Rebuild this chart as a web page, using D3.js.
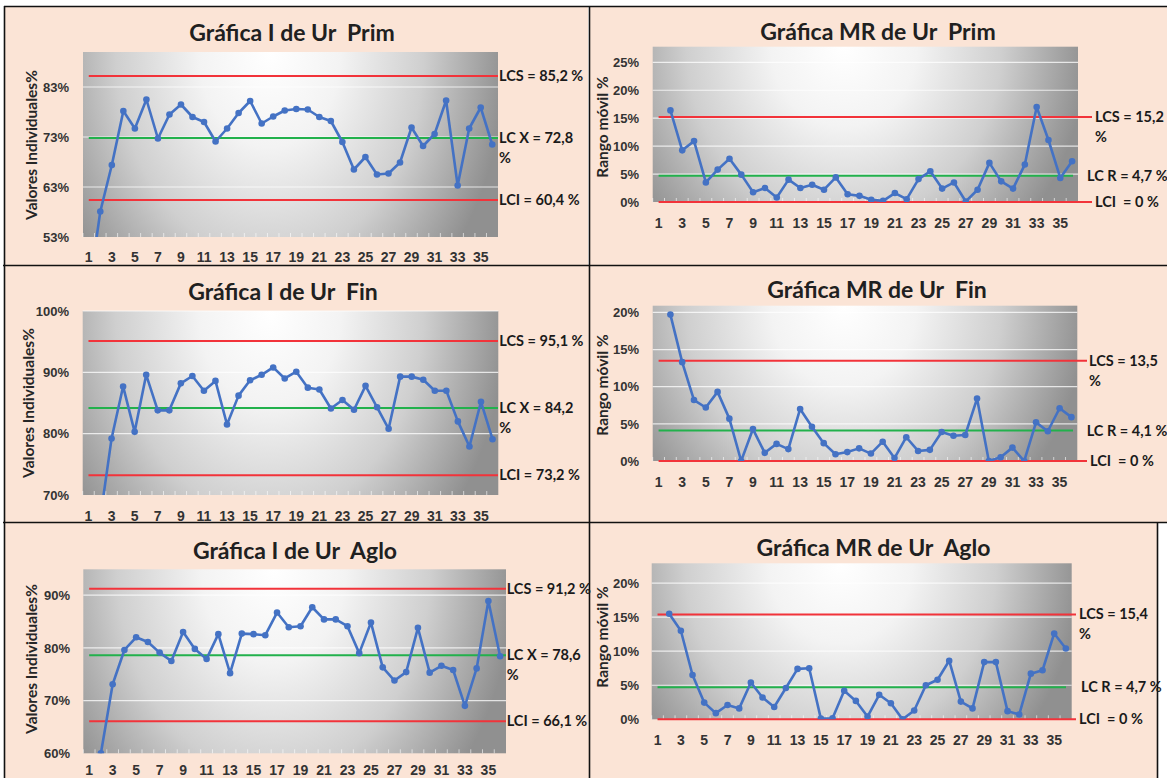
<!DOCTYPE html>
<html>
<head>
<meta charset="utf-8">
<script src="https://cdn.jsdelivr.net/npm/d3@7"></script>
<style>
  body { margin: 0; background: #ffffff; }
  svg { display: block; font-family: Lato, "Open Sans", sans-serif; }
  text { white-space: pre; }
</style>
</head>
<body>
<svg id="chart" width="1167" height="778"></svg>
<script>
// Observation numbers and the odd labels shown on the category axis
const observations = d3.range(1, 37);
const xTickLabels = d3.range(1, 36, 2);

// Ur Prim – individual values (%) and moving ranges (%)
const primValues = [41.9, 58.1, 67.4, 78.2, 74.7, 80.5, 72.7, 77.5, 79.5, 77.0, 76.0, 72.1,
  74.7, 77.8, 80.2, 75.7, 77.1, 78.3, 78.6, 78.5, 77.0, 76.2, 72.0, 66.5,
  69.0, 65.5, 65.7, 67.9, 74.9, 71.2, 73.6, 80.3, 63.3, 74.7, 78.9, 71.5];
const primRanges = [null, 16.4, 9.25, 10.9, 3.5, 5.8, 7.75, 4.9, 1.75, 2.5, 0.8, 4.0,
  2.5, 3.1, 2.2, 4.4, 1.4, 1.1, 0.4, 0.2, 1.6, 0.5, 4.1, 5.5,
  2.4, 3.5, 0.1, 2.2, 7.0, 3.7, 2.4, 6.7, 17.0, 11.1, 4.3, 7.3];
const primLimits = [85.2, 72.8, 60.4];
const primRangeLimits = [15.2, 4.7, 0];

// Ur Fin
const finValues = [46.2, 65.9, 79.2, 87.7, 80.3, 89.6, 83.8, 83.8, 88.2, 89.4, 87.0, 88.6,
  81.5, 86.2, 88.7, 89.6, 90.8, 89.0, 90.1, 87.5, 87.2, 84.1, 85.5, 83.9,
  87.8, 84.3, 80.8, 89.3, 89.3, 88.8, 87.0, 87.0, 82.0, 77.9, 85.2, 79.1];
const finRanges = [null, 19.7, 13.3, 8.2, 7.2, 9.3, 5.7, 0, 4.3, 1.1, 2.3, 1.6,
  7.0, 4.6, 2.4, 0.9, 1.2, 1.7, 1.0, 2.6, 0.4, 3.2, 1.35, 1.5,
  3.9, 3.4, 3.5, 8.4, 0, 0.5, 1.8, 0, 5.2, 4.0, 7.1, 5.9];
const finLimits = [95.1, 84.2, 73.2];
const finRangeLimits = [13.5, 4.1, 0];

// Ur Aglo
const agloValues = [44.5, 60.0, 73.1, 79.6, 82.0, 81.1, 79.1, 77.5, 83.0, 79.8, 77.9, 82.6,
  75.2, 82.7, 82.6, 82.4, 86.7, 83.9, 84.1, 87.7, 85.4, 85.4, 84.1, 79.0,
  84.8, 76.3, 73.8, 75.4, 83.8, 75.3, 76.6, 75.8, 69.0, 76.1, 88.9, 78.4];
const agloRanges = [null, 15.5, 13.0, 6.5, 2.45, 0.9, 2.1, 1.6, 5.4, 3.2, 1.8, 4.6,
  7.4, 7.5, 0.1, 0.15, 4.2, 2.7, 0.4, 3.6, 2.35, 0, 1.3, 5.0,
  5.8, 8.6, 2.6, 1.6, 8.4, 8.4, 1.2, 0.7, 6.7, 7.2, 12.6, 10.4];
const agloLimits = [91.2, 78.6, 66.1];
const agloRangeLimits = [15.4, 4.7, 0];

// Value-axis ticks and ranges
const primTicks = [53, 63, 73, 83];
const finTicks = [70, 80, 90, 100];
const agloTicks = [60, 70, 80, 90];
const primRangeTicks = [0, 5, 10, 15, 20, 25];
const finRangeTicks = [0, 5, 10, 15, 20];
const agloRangeTicks = [0, 5, 10, 15, 20];
const primDomain = [53, 90];
const finDomain = [70, 100];
const agloDomain = [60, 94.9];
const primRangeDomain = [0, 27.8];
const finRangeDomain = [0, 20.9];
const agloRangeDomain = [0, 22.9];

// Label prefixes for the control limits
const iLimitNames = ["LCS = ", "LC X = ", "LCI = "];
const mrLimitNames = ["LCS = ", "LC R = ", "LCI  = "];

const COLORS = {
  cell: "#fbe4d6", series: "#4472c4", red: "#f2333a", green: "#22b14c",
  text: "#1a1a1a", axis: "#333333"
};

const panels = [
  { title: "Gráfica I de Ur  Prim", values: primValues, domain: primDomain, ticks: primTicks,
    limits: primLimits, names: iLimitNames, wrap: 1, yTitle: "Valores Individuales%",
    x0: 83, x1: 498, y0: 52, y1: 237, yLabelX: 69, xLabelY: 257,
    titleX: 292, titleY: 33, yTitleX: 32, yTitleY: 145,
    labelX: [499, 499, 499], redEnd: 498, greenEnd: 498 },
  { title: "Gráfica MR de Ur  Prim", values: primRanges, domain: primRangeDomain, ticks: primRangeTicks,
    limits: primRangeLimits, names: mrLimitNames, wrap: 0, yTitle: "Rango móvil %",
    x0: 652.7, x1: 1078, y0: 46.7, y1: 202, yLabelX: 639, xLabelY: 223,
    titleX: 878, titleY: 32, yTitleX: 603, yTitleY: 127,
    labelX: [1095, 1087, 1095], redEnd: 1092, greenEnd: 1073 },
  { title: "Gráfica I de Ur  Fin", values: finValues, domain: finDomain, ticks: finTicks,
    limits: finLimits, names: iLimitNames, wrap: 1, yTitle: "Valores Individuales%",
    x0: 82.7, x1: 498.3, y0: 311, y1: 495, yLabelX: 69, xLabelY: 516,
    titleX: 283, titleY: 292, yTitleX: 29, yTitleY: 403,
    labelX: [499.3, 499.3, 499.3], redEnd: 498, greenEnd: 498 },
  { title: "Gráfica MR de Ur  Fin", values: finRanges, domain: finRangeDomain, ticks: finRangeTicks,
    limits: finRangeLimits, names: mrLimitNames, wrap: 0, yTitle: "Rango móvil %",
    x0: 652.7, x1: 1077.3, y0: 305.7, y1: 461, yLabelX: 639, xLabelY: 482,
    titleX: 877, titleY: 290, yTitleX: 603, yTitleY: 385,
    labelX: [1089, 1086.7, 1090], redEnd: 1087, greenEnd: 1073 },
  { title: "Gráfica I de Ur  Aglo", values: agloValues, domain: agloDomain, ticks: agloTicks,
    limits: agloLimits, names: iLimitNames, wrap: 1, yTitle: "Valores Individuales%",
    x0: 83.3, x1: 506, y0: 569.3, y1: 753.3, yLabelX: 70, xLabelY: 770,
    titleX: 295, titleY: 551, yTitleX: 32, yTitleY: 659,
    labelX: [506.7, 506.7, 506.7], redEnd: 506, greenEnd: 506 },
  { title: "Gráfica MR de Ur  Aglo", values: agloRanges, domain: agloRangeDomain, ticks: agloRangeTicks,
    limits: agloRangeLimits, names: mrLimitNames, wrap: 0, yTitle: "Rango móvil %",
    x0: 651.7, x1: 1071.7, y0: 563.3, y1: 719.3, yLabelX: 639, xLabelY: 740,
    titleX: 873.5, titleY: 548, yTitleX: 603, yTitleY: 637,
    labelX: [1079, 1081, 1079], redEnd: 1076, greenEnd: 1066 }
];

const svg = d3.select("#chart");
const defs = svg.append("defs");

// Plot-area fill: bright spot at the top, darkening toward the sides
const grad = defs.append("radialGradient")
  .attr("id", "plotFill")
  .attr("cx", 0.45).attr("cy", 0).attr("r", 0.57)
  .attr("gradientTransform", "translate(0.45,0) scale(1,3.0) translate(-0.45,0)");
[[0, "#ffffff"], [0.3, "#f3f3f3"], [0.65, "#cfcfcf"], [1, "#909090"]].forEach(([o, c]) =>
  grad.append("stop").attr("offset", o).attr("stop-color", c));

// Cell backgrounds and frame lines
const cells = [
  [5, 7, 583, 258], [590, 7, 577, 258],
  [4, 266, 585, 256], [590, 266, 577, 256],
  [5, 523, 584, 255], [590, 523, 567, 255]
];
svg.append("g").selectAll("rect").data(cells).join("rect")
  .attr("x", d => d[0]).attr("y", d => d[1]).attr("width", d => d[2]).attr("height", d => d[3])
  .attr("fill", COLORS.cell);

const frame = [
  [4, 6.5, 1167, 6.5], [3, 265.5, 1167, 265.5], [3, 522.5, 1167, 522.5],
  [4.5, 6, 4.5, 778], [589.5, 6, 589.5, 778], [1157.5, 523, 1157.5, 778]
];
svg.append("g").selectAll("line").data(frame).join("line")
  .attr("x1", d => d[0]).attr("y1", d => d[1]).attr("x2", d => d[2]).attr("y2", d => d[3])
  .attr("stroke", "#111").attr("stroke-width", 1.6);

const fmt = v => String(v).replace(".", ",");

panels.forEach((p, idx) => {
  const g = svg.append("g");
  const x = d3.scaleBand().domain(observations).range([p.x0, p.x1]);
  const cx = d => x(d) + x.bandwidth() / 2;
  const y = d3.scaleLinear().domain(p.domain).range([p.y1, p.y0]);

  const clipId = "clip" + idx;
  defs.append("clipPath").attr("id", clipId).append("rect")
    .attr("x", p.x0).attr("y", p.y0).attr("width", p.x1 - p.x0).attr("height", p.y1 - p.y0);

  // title
  g.append("text").attr("x", p.titleX).attr("y", p.titleY).attr("dy", "0.35em")
    .attr("text-anchor", "middle").attr("font-size", 23).attr("font-weight", 700)
    .attr("fill", "#202020").text(p.title);

  // plot area
  g.append("rect").attr("x", p.x0).attr("y", p.y0)
    .attr("width", p.x1 - p.x0).attr("height", p.y1 - p.y0).attr("fill", "url(#plotFill)");

  // horizontal gridlines
  g.append("g").selectAll("line").data(p.ticks.filter(t => t > p.domain[0])).join("line")
    .attr("x1", p.x0).attr("x2", p.x1).attr("y1", d => y(d)).attr("y2", d => y(d))
    .attr("stroke", "#ffffff").attr("stroke-opacity", 0.75).attr("stroke-width", 1.2);

  // category tick marks along the bottom
  g.append("g").selectAll("line").data(observations).join("line")
    .attr("x1", d => x(d)).attr("x2", d => x(d)).attr("y1", p.y1).attr("y2", p.y1 - 4)
    .attr("stroke", "#ffffff").attr("stroke-opacity", 0.6);

  // value axis labels
  const yAxis = d3.axisLeft(y).tickValues(p.ticks).tickFormat(d => d + "%").tickSize(0).tickPadding(0);
  const ya = g.append("g").attr("transform", `translate(${p.yLabelX},0)`).call(yAxis);
  ya.select(".domain").remove();
  ya.selectAll("text").attr("font-size", 13).attr("font-weight", 700)
    .attr("fill", COLORS.axis).attr("font-family", null);

  // category axis labels
  const xAxis = d3.axisBottom(x).tickValues(xTickLabels).tickSize(0).tickPadding(0);
  const xa = g.append("g").attr("transform", `translate(0,${p.xLabelY})`).call(xAxis);
  xa.select(".domain").remove();
  xa.selectAll("text").attr("y", 0).attr("dy", "0.35em").attr("font-size", 14)
    .attr("font-weight", 700).attr("fill", COLORS.axis).attr("font-family", null);

  // value-axis title
  g.append("text").attr("transform", `translate(${p.yTitleX},${p.yTitleY}) rotate(-90)`)
    .attr("text-anchor", "middle").attr("dy", "0.35em").attr("font-size", 15.5)
    .attr("font-weight", 700).attr("fill", "#262626").text(p.yTitle);

  // control limits
  const limitColor = [COLORS.red, COLORS.green, COLORS.red];
  p.limits.forEach((v, i) => {
    g.append("line")
      .attr("x1", cx(1)).attr("x2", i === 1 ? p.greenEnd : p.redEnd)
      .attr("y1", y(v)).attr("y2", y(v))
      .attr("stroke", limitColor[i]).attr("stroke-width", 2);
    const lines = (i === p.wrap)
      ? [p.names[i] + fmt(v), "%"]
      : [p.names[i] + fmt(v) + " %"];
    const t = g.append("text").attr("x", p.labelX[i]).attr("y", y(v))
      .attr("font-size", 14.5).attr("font-weight", 700).attr("fill", COLORS.text);
    lines.forEach((s, k) => t.append("tspan").attr("x", p.labelX[i])
      .attr("dy", k === 0 ? "0.35em" : 20).text(s));
  });

  // series line and markers
  const pts = observations.map((o, i) => ({ o, v: p.values[i] }));
  const line = d3.line().defined(d => d.v != null).x(d => cx(d.o)).y(d => y(d.v));
  const sg = g.append("g").attr("clip-path", `url(#${clipId})`);
  sg.append("path").datum(pts).attr("d", line).attr("fill", "none")
    .attr("stroke", COLORS.series).attr("stroke-width", 2.6).attr("stroke-linejoin", "round");
  sg.selectAll("circle").data(pts.filter(d => d.v != null)).join("circle")
    .attr("cx", d => cx(d.o)).attr("cy", d => y(d.v)).attr("r", 3.3).attr("fill", COLORS.series);
});
</script>
</body>
</html>
